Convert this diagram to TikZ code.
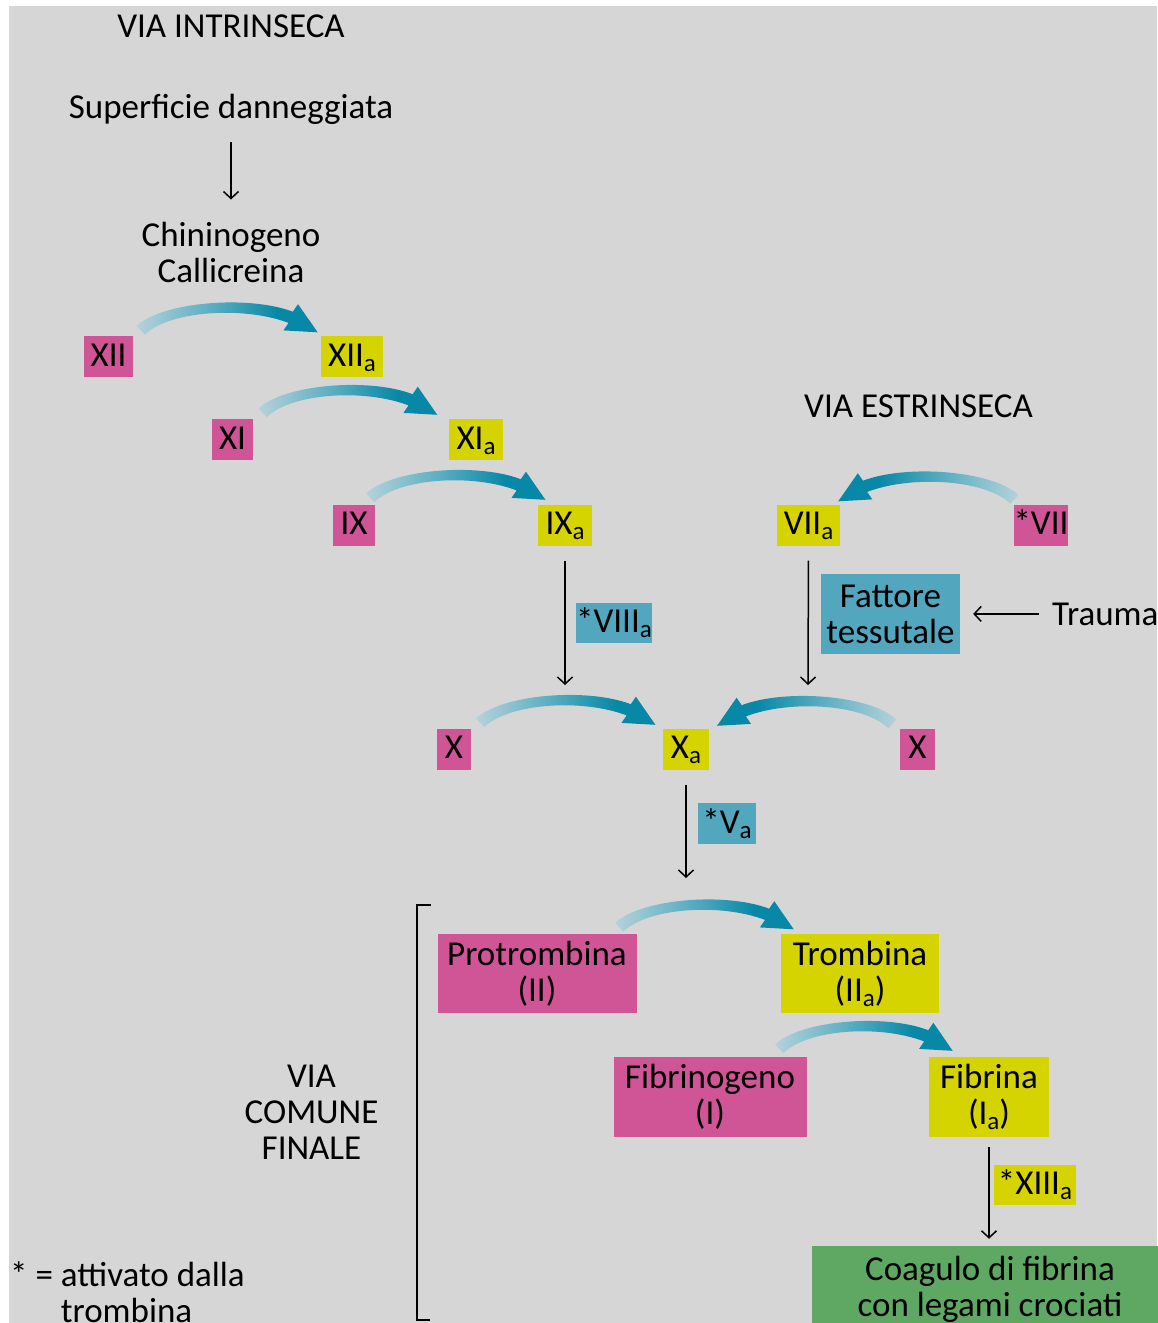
\documentclass[tikz,border=0pt]{standalone}
\usepackage{fontspec}
\setmainfont{Carlito}
\usetikzlibrary{arrows.meta,calc}
\definecolor{bg}{HTML}{D6D6D6}
\definecolor{mag}{HTML}{CF5597}
\definecolor{yel}{HTML}{D5D400}
\definecolor{tealbox}{HTML}{52A6BE}
\definecolor{grn}{HTML}{5FA864}
\definecolor{aL}{HTML}{B5D2DA}
\definecolor{aM}{HTML}{5DAFC3}
\definecolor{aD}{HTML}{0788A6}
\pgfdeclarehorizontalshading{arrR}{100bp}{color(0bp)=(aL); color(25bp)=(aL); color(45bp)=(aM); color(64bp)=(aD); color(100bp)=(aD)}
\pgfdeclarehorizontalshading{arrL}{100bp}{color(0bp)=(aD); color(36bp)=(aD); color(55bp)=(aM); color(75bp)=(aL); color(100bp)=(aL)}
\newcommand\myfs{\fontsize{35}{36}\selectfont}
\newcommand\subA{\raisebox{-5pt}{\fontsize{25}{25}\selectfont a}}
% curved activation arrow: #1 tail coordinate, #2 signed x scale, #3 shading
\newcommand\carrow[3]{%
  \shade[shading=#3, shift={(#1)}, xscale=#2]
    (-4.1,-4.3) .. controls (20.9,-28.3) and (107.1,-35.6) .. (152.1,-18.6)
    -- (157.3,-26.1) -- (177,2) -- (142.7,0.1) -- (147.9,-7.4)
    .. controls (102.9,-24.4) and (29.1,-19.7) .. (4.1,4.3) -- cycle;}
\tikzset{
  txtbase/.style={inner sep=0pt, font=\myfs, align=center},
  one/.style={txtbase, text height=22.5pt, text depth=3pt, minimum height=41pt},
  two/.style={txtbase, minimum height=80pt},
  mg/.style={fill=mag}, yl/.style={fill=yel}, tl/.style={fill=tealbox}, gn/.style={fill=grn},
  tarrow/.style={line width=1.5pt, -{Straight Barb[length=7pt,width=15pt]}}
}
\begin{document}
\begin{tikzpicture}[x=1pt,y=-1pt]
\useasboundingbox (0,0) rectangle (1157,1323);
\fill[white] (0,0) rectangle (1157,1323);
\fill[bg] (9,6) rectangle (1157,1323);

% texts
\node[txtbase, anchor=base] (vi) at (231,37) {VIA INTRINSECA};
\node[txtbase, anchor=base] (sup) at (231,118) {Superficie danneggiata};
\node[txtbase] (chin) at (231,252) {Chininogeno\\Callicreina};
\node[txtbase, anchor=base] (ve) at (918.5,417) {VIA ESTRINSECA};
\node[txtbase, anchor=base west] (trauma) at (1052,625) {Trauma};
\node[txtbase] (vcf) at (311.5,1112.5) {VIA\\COMUNE\\FINALE};
\node[txtbase, anchor=base west, align=left] (leg) at (10,1322) {* = attivato dalla\\\phantom{* = }trombina};

% boxes
\node[one, mg, minimum width=49pt] (xii) at (108.5,356.5) {XII};
\node[one, yl, minimum width=62pt] (xiia) at (352,356.5) {XII\subA};
\node[one, mg, minimum width=41pt] (xi) at (232.5,439.5) {XI};
\node[one, yl, minimum width=54pt] (xia) at (476,439.5) {XI\subA};
\node[one, mg, minimum width=42pt] (ix) at (354,525) {IX};
\node[one, yl, minimum width=54pt] (ixa) at (565,525) {IX\subA};
\node[one, yl, minimum width=63pt] (viia) at (808.5,525) {VII\subA};
\node[one, mg, minimum width=50pt] (vii) at (1041,525) {*VII};
\node[one, tl, minimum width=74pt, minimum height=40pt] (viii) at (614,623) {*VIII\subA};
\node[two, tl, minimum width=139pt] (fatt) at (890.5,614) {Fattore\\tessutale};
\node[one, mg, minimum width=34pt] (xl) at (454,749) {X};
\node[one, yl, minimum width=46pt] (xa) at (686,749) {X\subA};
\node[one, mg, minimum width=35pt] (xr) at (917.5,749) {X};
\node[one, tl, minimum width=58pt] (va) at (727,823.5) {*V\subA};
\node[two, mg, minimum width=199pt, minimum height=79pt] (protr) at (537,973.5) {Protrombina\\(II)};
\node[two, yl, minimum width=158pt, minimum height=79pt] (tromb) at (860,973.5) {Trombina\\(II\subA)};
\node[two, mg, minimum width=193pt] (fibrg) at (710,1097) {Fibrinogeno\\(I)};
\node[two, yl, minimum width=120pt] (fibr) at (989,1097) {Fibrina\\(I\subA)};
\node[one, yl, minimum width=82pt, minimum height=40pt] (xiii) at (1035,1185) {*XIII\subA};
\node[two, gn, minimum width=356pt, minimum height=86pt] (coag) at (990,1289) {Coagulo di fibrina\\con legami crociati};

% thin arrows
\coordinate (c9) at (565,685);
\coordinate (c7) at (808,685);
\coordinate (cx) at (686,878);
\draw[tarrow] ($(sup.base)+(0,24)$) -- ($(chin.north)+(0,-22)$);
\draw[tarrow, shorten <=15pt] (ixa.south) -- (c9);
\draw[tarrow, shorten <=15pt] (viia.south) -- (c7);
\draw[tarrow, shorten <=15pt] (xa.south) -- (cx);
\draw[tarrow, shorten <=13pt, shorten >=13pt] (trauma.west) -- (trauma.west -| fatt.east);
\draw[tarrow, shorten <=10pt, shorten >=7pt] (fibr.south) -- (fibr.south |- coag.north);

% bracket
\draw[line width=1.6pt] (431,905) -- (417,905) -- (417,1320) -- (430,1320);

% curved activation arrows
\coordinate (t1) at ($(xii.north east)+(7.5,-5.5)$);
\coordinate (t2) at ($(xi.north east)+(9.5,-6)$);
\coordinate (t3) at ($(ix.north east)+(-5,-6.5)$);
\coordinate (t4) at ($(vii.north west)+(1,-5)$);
\coordinate (t5) at ($(xl.north east)+(9,-5.5)$);
\coordinate (t6) at ($(xr.north west)+(-7.5,-4.5)$);
\coordinate (t7) at ($(protr.north east)+(-17.5,-6.5)$);
\coordinate (t8) at ($(fibrg.north east)+(-27.5,-8)$);
\carrow{t1}{1}{arrR}
\carrow{t2}{0.986}{arrR}
\carrow{t3}{0.99}{arrR}
\carrow{t4}{-0.995}{arrL}
\carrow{t5}{0.99}{arrR}
\carrow{t6}{-0.99}{arrL}
\carrow{t7}{0.986}{arrR}
\carrow{t8}{0.98}{arrR}
\end{tikzpicture}
\end{document}
